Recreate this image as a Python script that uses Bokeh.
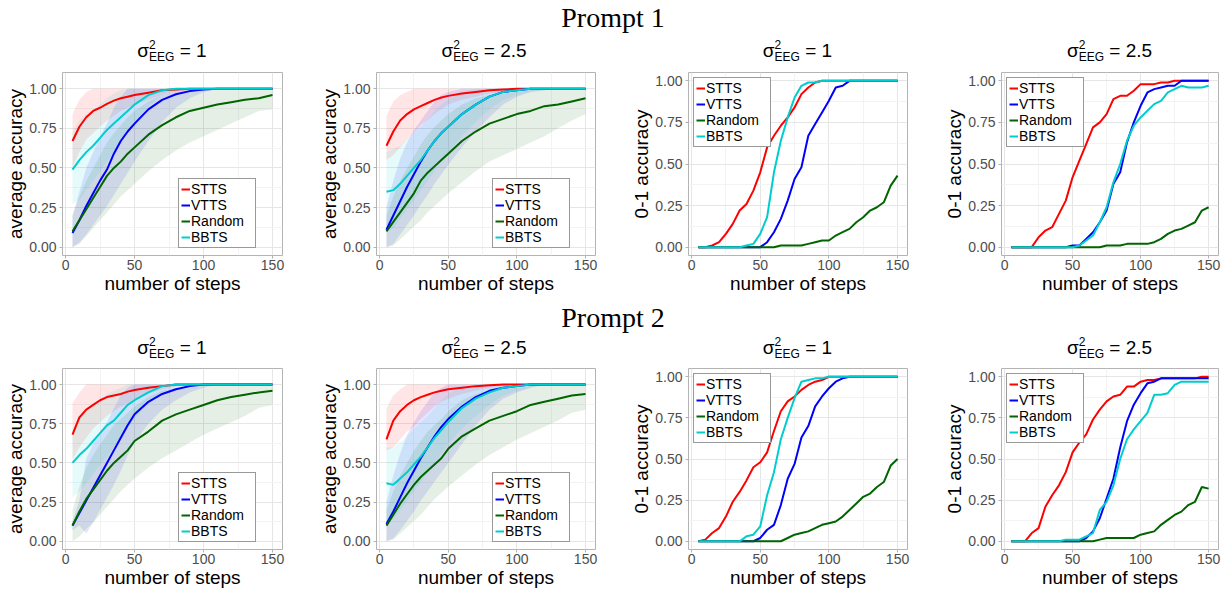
from bokeh.plotting import figure
from bokeh.models import Range1d, FixedTicker, Legend, LegendItem, Div, NumeralTickFormatter
from bokeh.layouts import row, column
from bokeh.embed import file_html
from bokeh.resources import INLINE

# ---------------- data ----------------
STEPS = [5, 10, 15, 20, 25, 30, 35, 40, 45, 50, 55, 60, 65, 70, 75,
         80, 85, 90, 95, 100, 105, 110, 115, 120, 125, 130, 135, 140, 145, 150]
AVG_STEPS = [5, 10, 15, 20, 25, 30, 35, 40, 45, 50, 60, 70, 80, 90, 100, 110, 120, 130, 140, 150]

METHODS = ["STTS", "VTTS", "Random", "BBTS"]
COLORS = ["#FF0000", "#0000FF", "#006400", "#00CDCD"]
PROMPTS = ["Prompt 1", "Prompt 2"]
SIGMAS = ["1", "2.5", "1", "2.5"]
X_TICKS = [0, 50, 100, 150]
X_MINOR = [25, 75, 125]
Y_TICKS = [0.0, 0.25, 0.5, 0.75, 1.0]
Y_MINOR = [0.125, 0.375, 0.625, 0.875]

# Prompt 1, sigma^2 = 1, average accuracy
P1_AVG1_STTS    = [0.67, 0.76, 0.82, 0.86, 0.88, 0.905, 0.925, 0.94, 0.95, 0.96, 0.975, 0.99, 0.995, 1.0, 1.0, 1.0, 1.0, 1.0, 1.0, 1.0]
P1_AVG1_STTS_LO = [0.50, 0.60, 0.68, 0.72, 0.76, 0.80, 0.83, 0.86, 0.88, 0.90, 0.93, 0.96, 0.98, 0.99, 1.0, 1.0, 1.0, 1.0, 1.0, 1.0]
P1_AVG1_STTS_HI = [0.84, 0.93, 0.98, 1.0, 1.0, 1.0, 1.0, 1.0, 1.0, 1.0, 1.0, 1.0, 1.0, 1.0, 1.0, 1.0, 1.0, 1.0, 1.0, 1.0]
P1_AVG1_VTTS    = [0.09, 0.17, 0.26, 0.34, 0.42, 0.49, 0.59, 0.67, 0.73, 0.78, 0.87, 0.93, 0.965, 0.985, 0.995, 1.0, 1.0, 1.0, 1.0, 1.0]
P1_AVG1_VTTS_LO = [0.0, 0.03, 0.08, 0.14, 0.20, 0.26, 0.33, 0.40, 0.47, 0.54, 0.67, 0.79, 0.88, 0.94, 0.98, 1.0, 1.0, 1.0, 1.0, 1.0]
P1_AVG1_VTTS_HI = [0.20, 0.35, 0.50, 0.60, 0.70, 0.78, 0.88, 0.95, 1.0, 1.0, 1.0, 1.0, 1.0, 1.0, 1.0, 1.0, 1.0, 1.0, 1.0, 1.0]
P1_AVG1_RAND    = [0.10, 0.17, 0.24, 0.31, 0.38, 0.45, 0.50, 0.54, 0.59, 0.63, 0.71, 0.77, 0.82, 0.86, 0.88, 0.90, 0.915, 0.93, 0.94, 0.96]
P1_AVG1_RAND_LO = [0.0, 0.02, 0.07, 0.12, 0.17, 0.22, 0.27, 0.32, 0.36, 0.40, 0.48, 0.55, 0.61, 0.66, 0.70, 0.74, 0.78, 0.82, 0.86, 0.87]
P1_AVG1_RAND_HI = [0.20, 0.32, 0.42, 0.50, 0.58, 0.66, 0.72, 0.77, 0.82, 0.86, 0.92, 0.96, 0.98, 0.99, 1.0, 1.0, 1.0, 1.0, 1.0, 1.0]
P1_AVG1_BBTS    = [0.49, 0.55, 0.60, 0.64, 0.69, 0.74, 0.78, 0.82, 0.86, 0.90, 0.96, 0.99, 1.0, 1.0, 1.0, 1.0, 1.0, 1.0, 1.0, 1.0]
P1_AVG1_BBTS_LO = [0.27, 0.30, 0.36, 0.42, 0.48, 0.54, 0.60, 0.66, 0.72, 0.78, 0.89, 0.96, 0.99, 1.0, 1.0, 1.0, 1.0, 1.0, 1.0, 1.0]
P1_AVG1_BBTS_HI = [0.72, 0.80, 0.84, 0.87, 0.90, 0.94, 0.97, 0.99, 1.0, 1.0, 1.0, 1.0, 1.0, 1.0, 1.0, 1.0, 1.0, 1.0, 1.0, 1.0]

# Prompt 1, sigma^2 = 2.5, average accuracy
P1_AVG2_STTS    = [0.64, 0.73, 0.80, 0.84, 0.87, 0.89, 0.91, 0.93, 0.945, 0.955, 0.97, 0.98, 0.99, 0.995, 1.0, 1.0, 1.0, 1.0, 1.0, 1.0]
P1_AVG2_STTS_LO = [0.55, 0.58, 0.63, 0.68, 0.72, 0.77, 0.80, 0.84, 0.87, 0.90, 0.93, 0.95, 0.97, 0.98, 0.99, 1.0, 1.0, 1.0, 1.0, 1.0]
P1_AVG2_STTS_HI = [0.83, 0.92, 0.96, 0.98, 1.0, 1.0, 1.0, 1.0, 1.0, 1.0, 1.0, 1.0, 1.0, 1.0, 1.0, 1.0, 1.0, 1.0, 1.0, 1.0]
P1_AVG2_VTTS    = [0.11, 0.20, 0.29, 0.38, 0.46, 0.54, 0.61, 0.67, 0.72, 0.76, 0.84, 0.90, 0.95, 0.98, 0.99, 1.0, 1.0, 1.0, 1.0, 1.0]
P1_AVG2_VTTS_LO = [0.0, 0.02, 0.08, 0.14, 0.20, 0.27, 0.33, 0.40, 0.46, 0.52, 0.63, 0.73, 0.82, 0.90, 0.95, 0.98, 0.99, 1.0, 1.0, 1.0]
P1_AVG2_VTTS_HI = [0.25, 0.42, 0.56, 0.66, 0.74, 0.80, 0.86, 0.92, 0.96, 0.98, 1.0, 1.0, 1.0, 1.0, 1.0, 1.0, 1.0, 1.0, 1.0, 1.0]
P1_AVG2_RAND    = [0.10, 0.16, 0.22, 0.28, 0.34, 0.42, 0.47, 0.51, 0.55, 0.59, 0.67, 0.73, 0.78, 0.81, 0.84, 0.86, 0.89, 0.90, 0.92, 0.94]
P1_AVG2_RAND_LO = [0.0, 0.01, 0.05, 0.09, 0.13, 0.17, 0.22, 0.26, 0.30, 0.34, 0.41, 0.48, 0.54, 0.58, 0.62, 0.66, 0.70, 0.75, 0.80, 0.84]
P1_AVG2_RAND_HI = [0.20, 0.32, 0.42, 0.50, 0.57, 0.65, 0.71, 0.76, 0.80, 0.84, 0.90, 0.94, 0.96, 0.97, 0.98, 0.99, 1.0, 1.0, 1.0, 1.0]
P1_AVG2_BBTS    = [0.35, 0.36, 0.40, 0.45, 0.50, 0.55, 0.61, 0.67, 0.72, 0.76, 0.84, 0.90, 0.95, 0.98, 0.99, 1.0, 1.0, 1.0, 1.0, 1.0]
P1_AVG2_BBTS_LO = [0.10, 0.12, 0.18, 0.24, 0.30, 0.36, 0.42, 0.48, 0.54, 0.60, 0.70, 0.79, 0.87, 0.93, 0.96, 0.98, 0.99, 1.0, 1.0, 1.0]
P1_AVG2_BBTS_HI = [0.60, 0.62, 0.64, 0.68, 0.72, 0.76, 0.80, 0.86, 0.90, 0.93, 0.98, 1.0, 1.0, 1.0, 1.0, 1.0, 1.0, 1.0, 1.0, 1.0]

# Prompt 1, 0-1 accuracy
P1_01_1_STTS = [0, 0, 0.01, 0.03, 0.08, 0.14, 0.22, 0.26, 0.34, 0.45, 0.60, 0.67, 0.73, 0.78, 0.84, 0.92, 0.96, 0.99, 1, 1, 1, 1, 1, 1, 1, 1, 1, 1, 1, 1]
P1_01_1_VTTS = [0, 0, 0, 0, 0, 0, 0, 0, 0, 0, 0.03, 0.09, 0.17, 0.28, 0.41, 0.48, 0.67, 0.74, 0.81, 0.88, 0.96, 0.97, 1, 1, 1, 1, 1, 1, 1, 1]
P1_01_1_RAND = [0, 0, 0, 0, 0, 0, 0, 0, 0, 0, 0, 0, 0.01, 0.01, 0.01, 0.01, 0.02, 0.03, 0.04, 0.04, 0.07, 0.09, 0.11, 0.15, 0.18, 0.22, 0.24, 0.27, 0.37, 0.43]
P1_01_1_BBTS = [0, 0, 0, 0, 0, 0, 0, 0.01, 0.02, 0.08, 0.18, 0.45, 0.64, 0.78, 0.90, 0.97, 0.99, 0.99, 1, 1, 1, 1, 1, 1, 1, 1, 1, 1, 1, 1]
P1_01_2_STTS = [0, 0, 0, 0, 0.06, 0.10, 0.12, 0.20, 0.28, 0.42, 0.52, 0.62, 0.72, 0.75, 0.80, 0.89, 0.91, 0.91, 0.94, 0.98, 0.98, 0.98, 0.99, 0.99, 1, 1, 1, 1, 1, 1]
P1_01_2_VTTS = [0, 0, 0, 0, 0, 0, 0, 0, 0, 0.01, 0.01, 0.05, 0.09, 0.15, 0.22, 0.38, 0.45, 0.63, 0.75, 0.85, 0.93, 0.95, 0.96, 0.97, 0.97, 1, 1, 1, 1, 1]
P1_01_2_RAND = [0, 0, 0, 0, 0, 0, 0, 0, 0, 0, 0, 0, 0, 0, 0.01, 0.01, 0.01, 0.02, 0.02, 0.02, 0.02, 0.03, 0.05, 0.08, 0.10, 0.11, 0.13, 0.15, 0.22, 0.24]
P1_01_2_BBTS = [0, 0, 0, 0, 0, 0, 0, 0, 0, 0, 0.01, 0.04, 0.07, 0.15, 0.24, 0.39, 0.50, 0.64, 0.73, 0.78, 0.82, 0.86, 0.88, 0.93, 0.95, 0.97, 0.96, 0.96, 0.96, 0.97]

# Prompt 2, sigma^2 = 1, average accuracy
P2_AVG1_STTS    = [0.68, 0.79, 0.84, 0.87, 0.90, 0.92, 0.93, 0.94, 0.955, 0.965, 0.98, 0.99, 1.0, 1.0, 1.0, 1.0, 1.0, 1.0, 1.0, 1.0]
P2_AVG1_STTS_LO = [0.52, 0.60, 0.66, 0.72, 0.76, 0.80, 0.83, 0.86, 0.88, 0.90, 0.94, 0.97, 0.99, 1.0, 1.0, 1.0, 1.0, 1.0, 1.0, 1.0]
P2_AVG1_STTS_HI = [0.88, 0.95, 1.0, 1.0, 1.0, 1.0, 1.0, 1.0, 1.0, 1.0, 1.0, 1.0, 1.0, 1.0, 1.0, 1.0, 1.0, 1.0, 1.0, 1.0]
P2_AVG1_VTTS    = [0.10, 0.18, 0.26, 0.34, 0.42, 0.50, 0.58, 0.66, 0.74, 0.81, 0.89, 0.94, 0.97, 0.99, 1.0, 1.0, 1.0, 1.0, 1.0, 1.0]
P2_AVG1_VTTS_LO = [0.07, 0.10, 0.05, 0.12, 0.20, 0.28, 0.36, 0.45, 0.55, 0.63, 0.75, 0.84, 0.90, 0.95, 0.98, 1.0, 1.0, 1.0, 1.0, 1.0]
P2_AVG1_VTTS_HI = [0.13, 0.26, 0.53, 0.62, 0.70, 0.76, 0.85, 0.93, 0.98, 1.0, 1.0, 1.0, 1.0, 1.0, 1.0, 1.0, 1.0, 1.0, 1.0, 1.0]
P2_AVG1_RAND    = [0.10, 0.19, 0.27, 0.33, 0.39, 0.45, 0.50, 0.54, 0.58, 0.64, 0.70, 0.77, 0.81, 0.84, 0.87, 0.90, 0.92, 0.935, 0.95, 0.96]
P2_AVG1_RAND_LO = [0.0, 0.03, 0.08, 0.12, 0.17, 0.22, 0.27, 0.32, 0.36, 0.40, 0.47, 0.53, 0.58, 0.63, 0.68, 0.72, 0.76, 0.80, 0.85, 0.87]
P2_AVG1_RAND_HI = [0.20, 0.35, 0.47, 0.55, 0.62, 0.68, 0.74, 0.78, 0.82, 0.86, 0.92, 0.96, 0.98, 0.99, 1.0, 1.0, 1.0, 1.0, 1.0, 1.0]
P2_AVG1_BBTS    = [0.50, 0.55, 0.59, 0.64, 0.69, 0.74, 0.77, 0.82, 0.87, 0.90, 0.95, 0.99, 1.0, 1.0, 1.0, 1.0, 1.0, 1.0, 1.0, 1.0]
P2_AVG1_BBTS_LO = [0.28, 0.32, 0.37, 0.43, 0.49, 0.54, 0.60, 0.66, 0.72, 0.78, 0.88, 0.95, 0.99, 1.0, 1.0, 1.0, 1.0, 1.0, 1.0, 1.0]
P2_AVG1_BBTS_HI = [0.72, 0.78, 0.82, 0.86, 0.90, 0.94, 0.96, 0.98, 1.0, 1.0, 1.0, 1.0, 1.0, 1.0, 1.0, 1.0, 1.0, 1.0, 1.0, 1.0]

# Prompt 2, sigma^2 = 2.5, average accuracy
P2_AVG2_STTS    = [0.65, 0.77, 0.83, 0.87, 0.90, 0.92, 0.935, 0.95, 0.96, 0.97, 0.98, 0.99, 0.995, 1.0, 1.0, 1.0, 1.0, 1.0, 1.0, 1.0]
P2_AVG2_STTS_LO = [0.58, 0.60, 0.65, 0.70, 0.73, 0.78, 0.82, 0.86, 0.89, 0.91, 0.94, 0.96, 0.98, 0.99, 1.0, 1.0, 1.0, 1.0, 1.0, 1.0]
P2_AVG2_STTS_HI = [0.85, 0.93, 0.97, 1.0, 1.0, 1.0, 1.0, 1.0, 1.0, 1.0, 1.0, 1.0, 1.0, 1.0, 1.0, 1.0, 1.0, 1.0, 1.0, 1.0]
P2_AVG2_VTTS    = [0.11, 0.19, 0.28, 0.37, 0.45, 0.53, 0.60, 0.67, 0.73, 0.78, 0.86, 0.92, 0.96, 0.98, 0.99, 1.0, 1.0, 1.0, 1.0, 1.0]
P2_AVG2_VTTS_LO = [0.0, 0.02, 0.07, 0.13, 0.19, 0.26, 0.32, 0.38, 0.44, 0.50, 0.62, 0.74, 0.84, 0.91, 0.95, 0.98, 1.0, 1.0, 1.0, 1.0]
P2_AVG2_VTTS_HI = [0.25, 0.42, 0.56, 0.68, 0.76, 0.83, 0.89, 0.95, 0.98, 1.0, 1.0, 1.0, 1.0, 1.0, 1.0, 1.0, 1.0, 1.0, 1.0, 1.0]
P2_AVG2_RAND    = [0.10, 0.17, 0.24, 0.30, 0.36, 0.41, 0.45, 0.49, 0.53, 0.59, 0.67, 0.72, 0.77, 0.80, 0.83, 0.87, 0.89, 0.91, 0.93, 0.94]
P2_AVG2_RAND_LO = [0.0, 0.01, 0.05, 0.09, 0.13, 0.17, 0.22, 0.27, 0.31, 0.35, 0.42, 0.49, 0.55, 0.60, 0.65, 0.69, 0.73, 0.77, 0.82, 0.84]
P2_AVG2_RAND_HI = [0.20, 0.32, 0.42, 0.50, 0.58, 0.64, 0.70, 0.74, 0.78, 0.83, 0.90, 0.94, 0.96, 0.97, 0.98, 0.99, 1.0, 1.0, 1.0, 1.0]
P2_AVG2_BBTS    = [0.37, 0.36, 0.40, 0.44, 0.49, 0.54, 0.60, 0.66, 0.71, 0.76, 0.85, 0.91, 0.95, 0.98, 0.99, 1.0, 1.0, 1.0, 1.0, 1.0]
P2_AVG2_BBTS_LO = [0.12, 0.14, 0.20, 0.26, 0.32, 0.38, 0.44, 0.50, 0.56, 0.62, 0.72, 0.80, 0.87, 0.93, 0.96, 0.98, 1.0, 1.0, 1.0, 1.0]
P2_AVG2_BBTS_HI = [0.60, 0.60, 0.63, 0.67, 0.72, 0.76, 0.80, 0.85, 0.90, 0.94, 0.98, 1.0, 1.0, 1.0, 1.0, 1.0, 1.0, 1.0, 1.0, 1.0]

# Prompt 2, 0-1 accuracy
P2_01_1_STTS = [0, 0.01, 0.05, 0.08, 0.15, 0.24, 0.30, 0.37, 0.45, 0.48, 0.54, 0.67, 0.79, 0.85, 0.88, 0.92, 0.95, 0.97, 0.98, 1, 1, 1, 1, 1, 1, 1, 1, 1, 1, 1]
P2_01_1_VTTS = [0, 0, 0, 0, 0, 0, 0, 0, 0, 0.02, 0.07, 0.10, 0.22, 0.38, 0.47, 0.63, 0.70, 0.82, 0.88, 0.93, 0.97, 0.99, 1, 1, 1, 1, 1, 1, 1, 1]
P2_01_1_RAND = [0, 0, 0, 0, 0, 0, 0, 0, 0, 0, 0, 0, 0, 0.02, 0.04, 0.05, 0.06, 0.08, 0.10, 0.11, 0.12, 0.15, 0.19, 0.23, 0.27, 0.29, 0.33, 0.36, 0.46, 0.50]
P2_01_1_BBTS = [0, 0, 0, 0, 0, 0, 0, 0.03, 0.04, 0.09, 0.28, 0.42, 0.62, 0.75, 0.87, 0.97, 0.98, 0.99, 0.99, 1, 1, 1, 1, 1, 1, 1, 1, 1, 1, 1]
P2_01_2_STTS = [0, 0, 0, 0.05, 0.08, 0.21, 0.28, 0.34, 0.42, 0.54, 0.60, 0.65, 0.74, 0.80, 0.85, 0.88, 0.89, 0.94, 0.94, 0.97, 0.98, 0.98, 0.99, 0.99, 0.99, 0.99, 0.99, 0.99, 1.0, 1.0]
P2_01_2_VTTS = [0, 0, 0, 0, 0, 0, 0, 0, 0, 0, 0, 0.02, 0.06, 0.14, 0.26, 0.38, 0.57, 0.73, 0.83, 0.90, 0.96, 0.97, 0.99, 0.99, 0.99, 0.99, 0.99, 0.99, 0.99, 0.99]
P2_01_2_RAND = [0, 0, 0, 0, 0, 0, 0, 0, 0, 0, 0, 0, 0, 0.01, 0.02, 0.02, 0.02, 0.02, 0.02, 0.04, 0.05, 0.06, 0.10, 0.13, 0.16, 0.18, 0.22, 0.24, 0.33, 0.32]
P2_01_2_BBTS = [0, 0, 0, 0, 0, 0, 0, 0, 0.01, 0.01, 0.01, 0.03, 0.05, 0.19, 0.24, 0.34, 0.50, 0.62, 0.68, 0.73, 0.78, 0.89, 0.89, 0.90, 0.95, 0.97, 0.97, 0.97, 0.97, 0.97]

# ---------------- layout constants ----------------
FIG_W = [316, 310, 310, 290]
BORDER_L = [62, 57, 62, 65]
BORDER_R = [34, 31, 29, 8]
# per row: (prompt div height, prompt line-height, prompt padding, title height, top border, frame height, bottom border)
ROW_CFG = [(36, 36, 0, 30, 6, 186, 38), (36, 28, 8, 32, 4, 184, 38)]
FONT = "Liberation Sans"


def style_axes(p, ylabel):
    p.xaxis.ticker = FixedTicker(ticks=X_TICKS, minor_ticks=X_MINOR)
    p.yaxis.ticker = FixedTicker(ticks=Y_TICKS, minor_ticks=Y_MINOR)
    p.yaxis.formatter = NumeralTickFormatter(format="0.00")
    p.xaxis.axis_label = "number of steps"
    p.yaxis.axis_label = ylabel
    for ax in (p.xaxis[0], p.yaxis[0]):
        ax.axis_line_color = None
        ax.major_tick_line_color = "#B3B3B3"
        ax.major_tick_out = 3
        ax.major_tick_in = 0
        ax.minor_tick_line_color = None
        ax.major_label_text_font = FONT
        ax.major_label_text_font_size = "14px"
        ax.major_label_text_color = "#4D4D4D"
        ax.axis_label_text_font = FONT
        ax.axis_label_text_font_size = "19px"
        ax.axis_label_text_font_style = "normal"
        ax.axis_label_text_color = "black"
        ax.axis_label_standoff = 0
    p.xaxis[0].major_label_standoff = 0
    p.yaxis[0].major_label_standoff = 2
    for g in (p.xgrid[0], p.ygrid[0]):
        g.grid_line_color = "#E6E6E6"
        g.grid_line_width = 1
        g.minor_grid_line_color = "#F3F3F3"
        g.minor_grid_line_width = 1


def make_panel(j, cfg, ylabel, yr, steps, means, bands, legend_loc):
    for arr in means + [a for b in bands for a in b]:
        if len(arr) != len(steps):
            raise ValueError("length mismatch")
    _, _, _, _, top, frame_h, bottom = cfg
    p = figure(width=FIG_W[j], height=top + frame_h + bottom, output_backend="svg", toolbar_location=None,
               x_range=Range1d(-2.25, 157.25), y_range=Range1d(yr[0], yr[1]),
               min_border_left=BORDER_L[j], min_border_right=BORDER_R[j],
               min_border_top=top, min_border_bottom=bottom)
    p.outline_line_color = "#B3B3B3"
    p.outline_line_width = 1
    p.background_fill_color = "white"
    p.border_fill_color = "white"
    style_axes(p, ylabel)
    for (lo, hi), c in zip(bands, COLORS):
        p.varea(x=steps, y1=lo, y2=hi, fill_color=c, fill_alpha=0.1)
    rends = []
    for m, c in zip(means, COLORS):
        rends.append(p.line(steps, m, line_color=c, line_width=2))
    items = [LegendItem(label=lab, renderers=[r]) for lab, r in zip(METHODS, rends)]
    leg = Legend(items=items, location=legend_loc,
                 label_text_font=FONT, label_text_font_size="14px", label_text_color="black",
                 glyph_width=9, glyph_height=12, label_height=12, label_width=62, label_standoff=1,
                 spacing=0, padding=2, margin=(5 if isinstance(legend_loc, str) else 0),
                 border_line_color="#333333", border_line_width=1,
                 background_fill_color="white", background_fill_alpha=1)
    p.add_layout(leg)
    return p


def title_div(j, height, sigma):
    fw = FIG_W[j] - BORDER_L[j] - BORDER_R[j]
    html = ('<div style="margin-left:%dpx;width:%dpx;text-align:center;font-family:\'Liberation Sans\',Arial,sans-serif;'
            'font-size:19px;line-height:%dpx;color:#000;white-space:nowrap;">&sigma;'
            '<span style="display:inline-block;vertical-align:-4px;line-height:12px;font-size:12px;text-align:left;">'
            '<span style="display:block">2</span><span style="display:block">EEG</span></span> = %s</div>') % (
        BORDER_L[j], fw, height, sigma)
    return Div(text=html, width=FIG_W[j], height=height, margin=0)


def prompt_div(text, height, line_h, pad):
    html = ('<div style="width:1226px;text-align:center;font-family:\'Liberation Serif\',serif;font-size:28px;'
            'line-height:%dpx;padding-top:%dpx;color:#000;">%s</div>') % (line_h, pad, text)
    return Div(text=html, width=1226, height=height, margin=0)


AVG_R = (-0.0525, 1.1025)
ACC_R = (-0.05, 1.05)
LEG_BR = (116, 7)

panel_defs = [
    [
        ("average accuracy", AVG_R, AVG_STEPS,
         [P1_AVG1_STTS, P1_AVG1_VTTS, P1_AVG1_RAND, P1_AVG1_BBTS],
         [(P1_AVG1_STTS_LO, P1_AVG1_STTS_HI), (P1_AVG1_VTTS_LO, P1_AVG1_VTTS_HI),
          (P1_AVG1_RAND_LO, P1_AVG1_RAND_HI), (P1_AVG1_BBTS_LO, P1_AVG1_BBTS_HI)], LEG_BR),
        ("average accuracy", AVG_R, AVG_STEPS,
         [P1_AVG2_STTS, P1_AVG2_VTTS, P1_AVG2_RAND, P1_AVG2_BBTS],
         [(P1_AVG2_STTS_LO, P1_AVG2_STTS_HI), (P1_AVG2_VTTS_LO, P1_AVG2_VTTS_HI),
          (P1_AVG2_RAND_LO, P1_AVG2_RAND_HI), (P1_AVG2_BBTS_LO, P1_AVG2_BBTS_HI)], LEG_BR),
        ("0-1 accuracy", ACC_R, STEPS,
         [P1_01_1_STTS, P1_01_1_VTTS, P1_01_1_RAND, P1_01_1_BBTS], [], "top_left"),
        ("0-1 accuracy", ACC_R, STEPS,
         [P1_01_2_STTS, P1_01_2_VTTS, P1_01_2_RAND, P1_01_2_BBTS], [], "top_left"),
    ],
    [
        ("average accuracy", AVG_R, AVG_STEPS,
         [P2_AVG1_STTS, P2_AVG1_VTTS, P2_AVG1_RAND, P2_AVG1_BBTS],
         [(P2_AVG1_STTS_LO, P2_AVG1_STTS_HI), (P2_AVG1_VTTS_LO, P2_AVG1_VTTS_HI),
          (P2_AVG1_RAND_LO, P2_AVG1_RAND_HI), (P2_AVG1_BBTS_LO, P2_AVG1_BBTS_HI)], LEG_BR),
        ("average accuracy", AVG_R, AVG_STEPS,
         [P2_AVG2_STTS, P2_AVG2_VTTS, P2_AVG2_RAND, P2_AVG2_BBTS],
         [(P2_AVG2_STTS_LO, P2_AVG2_STTS_HI), (P2_AVG2_VTTS_LO, P2_AVG2_VTTS_HI),
          (P2_AVG2_RAND_LO, P2_AVG2_RAND_HI), (P2_AVG2_BBTS_LO, P2_AVG2_BBTS_HI)], LEG_BR),
        ("0-1 accuracy", ACC_R, STEPS,
         [P2_01_1_STTS, P2_01_1_VTTS, P2_01_1_RAND, P2_01_1_BBTS], [], "top_left"),
        ("0-1 accuracy", ACC_R, STEPS,
         [P2_01_2_STTS, P2_01_2_VTTS, P2_01_2_RAND, P2_01_2_BBTS], [], "top_left"),
    ],
]

blocks = []
for pi, defs in enumerate(panel_defs):
    cfg = ROW_CFG[pi]
    blocks.append(prompt_div(PROMPTS[pi], cfg[0], cfg[1], cfg[2]))
    cols = []
    for j, (ylab, yr, steps, means, bands, loc) in enumerate(defs):
        p = make_panel(j, cfg, ylab, yr, steps, means, bands, loc)
        cols.append(column(title_div(j, cfg[3], SIGMAS[j]), p, spacing=0))
    blocks.append(row(*cols, spacing=0))

layout = column(*blocks, spacing=0)

with open("out.html", "w") as f:
    f.write(file_html(layout, INLINE))
